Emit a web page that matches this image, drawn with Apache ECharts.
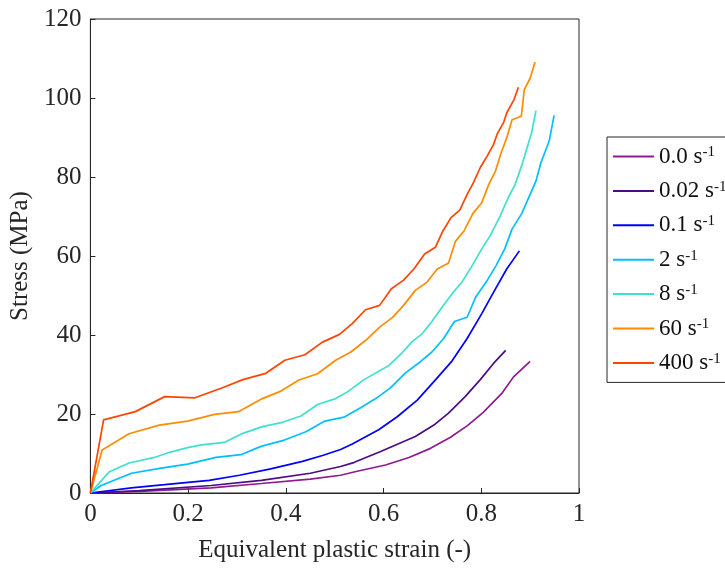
<!DOCTYPE html>
<html>
<head>
<meta charset="utf-8">
<script src="https://cdn.jsdelivr.net/npm/echarts@6/dist/echarts.min.js"></script>
<style>
  html, body { margin: 0; padding: 0; background: #fff; }
  #chart { width: 725px; height: 568px; }
</style>
</head>
<body>
<div id="chart"></div>
<script>
// Strain-rate labels (s^-1) and line colours
const rateNames = ['0.0', '0.02', '0.1', '2', '8', '60', '400'];
const rateColors = ['#8E1C8E', '#4B0C86', '#0000FF', '#00BFFF', '#40E0D0', '#FF8C00', '#FF4500'];

// Equivalent plastic strain (-) for each strain rate
const strain_0_0 = [0, 0.1, 0.247, 0.35, 0.45, 0.512, 0.546, 0.604, 0.652, 0.696, 0.737, 0.771, 0.804, 0.842, 0.866, 0.9];
const strain_0_02 = [0, 0.1, 0.247, 0.35, 0.45, 0.512, 0.539, 0.594, 0.665, 0.703, 0.733, 0.767, 0.798, 0.825, 0.85];
const strain_0_1 = [0, 0.084, 0.152, 0.243, 0.305, 0.369, 0.434, 0.475, 0.512, 0.536, 0.59, 0.628, 0.669, 0.703, 0.74, 0.771, 0.801, 0.825, 0.852, 0.878];
const strain_2 = [0, 0.022, 0.084, 0.145, 0.199, 0.257, 0.308, 0.349, 0.397, 0.441, 0.48, 0.519, 0.553, 0.584, 0.614, 0.645, 0.676, 0.699, 0.723, 0.745, 0.771, 0.789, 0.81, 0.83, 0.848, 0.863, 0.883, 0.912, 0.922, 0.939, 0.949];
const strain_8 = [0, 0.038, 0.079, 0.131, 0.162, 0.199, 0.227, 0.274, 0.312, 0.352, 0.393, 0.431, 0.465, 0.502, 0.526, 0.56, 0.611, 0.638, 0.659, 0.679, 0.699, 0.72, 0.74, 0.761, 0.781, 0.801, 0.818, 0.839, 0.856, 0.869, 0.883, 0.893, 0.903, 0.912];
const strain_60 = [0, 0.024, 0.079, 0.141, 0.199, 0.254, 0.303, 0.352, 0.39, 0.427, 0.465, 0.502, 0.533, 0.563, 0.592, 0.618, 0.641, 0.665, 0.689, 0.71, 0.733, 0.747, 0.765, 0.783, 0.801, 0.815, 0.829, 0.84, 0.852, 0.863, 0.882, 0.888, 0.9, 0.91];
const strain_400 = [0, 0.027, 0.092, 0.152, 0.214, 0.269, 0.312, 0.359, 0.398, 0.439, 0.475, 0.509, 0.536, 0.563, 0.592, 0.616, 0.641, 0.662, 0.684, 0.706, 0.72, 0.738, 0.756, 0.771, 0.784, 0.798, 0.812, 0.825, 0.833, 0.846, 0.852, 0.867, 0.876];

// Stress (MPa) for each strain rate
const stress_0_0 = [0, 0.4, 1.3, 2.4, 3.5, 4.5, 5.5, 7.1, 9.0, 11.3, 14.1, 17.0, 20.4, 25.2, 29.4, 33.3];
const stress_0_02 = [0, 0.6, 1.9, 3.2, 5.0, 6.7, 7.7, 10.5, 14.3, 17.2, 20.2, 24.4, 28.7, 32.8, 36.1];
const stress_0_1 = [0, 1.3, 2.1, 3.2, 4.5, 6.1, 8.0, 9.5, 11.0, 12.4, 16.0, 19.3, 23.5, 28.2, 33.4, 39.1, 45.4, 50.8, 56.7, 61.3];
const stress_2 = [0, 1.9, 5.0, 6.3, 7.3, 9.0, 9.7, 11.8, 13.4, 15.5, 18.2, 19.2, 21.6, 23.9, 26.6, 30.4, 33.3, 35.7, 39.1, 43.4, 44.5, 49.7, 53.4, 57.5, 61.8, 66.8, 70.8, 79.0, 83.6, 89.1, 95.6];
const stress_8 = [0, 5.3, 7.6, 9.0, 10.3, 11.5, 12.2, 12.8, 15.1, 16.8, 17.9, 19.5, 22.4, 23.9, 25.6, 28.7, 32.3, 35.5, 38.4, 40.3, 43.4, 47.1, 50.4, 53.5, 57.5, 61.8, 65.1, 70.2, 75.0, 78.0, 83.0, 87.1, 91.2, 96.8];
const stress_60 = [0, 10.9, 15.0, 17.2, 18.2, 19.9, 20.6, 23.9, 25.8, 28.6, 30.2, 33.6, 35.7, 38.6, 42.0, 44.4, 47.5, 51.3, 53.4, 56.7, 58.2, 63.7, 66.4, 70.8, 73.5, 78.0, 81.5, 85.9, 89.9, 94.5, 95.4, 102.1, 105.0, 109.1];
const stress_400 = [0, 18.5, 20.6, 24.4, 24.1, 26.6, 28.7, 30.3, 33.6, 35.0, 38.2, 40.1, 42.9, 46.4, 47.5, 51.7, 53.9, 56.7, 60.5, 62.2, 66.0, 69.7, 71.6, 75.6, 78.6, 82.4, 85.3, 88.2, 91.0, 93.9, 96.2, 99.6, 102.7];

// Axis tick values
const xTicks = [0, 0.2, 0.4, 0.6, 0.8, 1];
const yTicks = [0, 20, 40, 60, 80, 100, 120];

const strains = [strain_0_0, strain_0_02, strain_0_1, strain_2, strain_8, strain_60, strain_400];
const stresses = [stress_0_0, stress_0_02, stress_0_1, stress_2, stress_8, stress_60, stress_400];

const FONT = '"Liberation Serif", "Times New Roman", serif';
const AXIS_COLOR = '#262626';

const series = rateNames.map((name, i) => ({
  name: name,
  type: 'line',
  symbol: 'none',
  animation: false,
  lineStyle: { width: 1.7, color: rateColors[i] },
  itemStyle: { color: rateColors[i] },
  data: strains[i].map((x, j) => [x, stresses[i][j]])
}));

const chart = echarts.init(document.getElementById('chart'), null, { renderer: 'canvas' });
chart.setOption({
  backgroundColor: '#ffffff',
  animation: false,
  grid: {
    left: 89, top: 19, width: 490, height: 476,
    show: true, borderColor: AXIS_COLOR, borderWidth: 1, backgroundColor: 'transparent'
  },
  xAxis: {
    type: 'value',
    min: xTicks[0], max: xTicks[xTicks.length - 1], interval: xTicks[1] - xTicks[0],
    name: 'Equivalent plastic strain (-)',
    nameLocation: 'middle', nameGap: 45,
    nameTextStyle: { fontFamily: FONT, fontSize: 25, color: AXIS_COLOR },
    axisLine: { lineStyle: { color: AXIS_COLOR, width: 1 } },
    axisTick: { inside: true, length: 5, lineStyle: { color: AXIS_COLOR } },
    axisLabel: { fontFamily: FONT, fontSize: 25, color: AXIS_COLOR, margin: 9,
      formatter: v => String(+v.toFixed(1)) },
    splitLine: { show: false }
  },
  yAxis: {
    type: 'value',
    min: yTicks[0], max: yTicks[yTicks.length - 1], interval: yTicks[1] - yTicks[0],
    name: 'Stress (MPa)',
    nameLocation: 'middle', nameGap: 52,
    nameTextStyle: { fontFamily: FONT, fontSize: 25, color: AXIS_COLOR },
    axisLine: { lineStyle: { color: AXIS_COLOR, width: 1 } },
    axisTick: { inside: true, length: 5, lineStyle: { color: AXIS_COLOR } },
    axisLabel: { fontFamily: FONT, fontSize: 25, color: AXIS_COLOR, margin: 9 },
    splitLine: { show: false }
  },
  legend: {
    orient: 'vertical',
    left: 607, top: 137,
    padding: [8, 6, 4, 6],
    itemGap: 7.4,
    itemWidth: 41, itemHeight: 2,
    icon: 'rect',
    itemStyle: { borderWidth: 0 },
    borderColor: AXIS_COLOR, borderWidth: 1,
    backgroundColor: '#ffffff',
    data: rateNames,
    formatter: name => '{b|' + name + ' s}{sup|-1}',
    textStyle: {
      padding: [0, 0, 0, 0],
      rich: {
        b: { fontFamily: FONT, fontSize: 23, color: '#111', lineHeight: 23, verticalAlign: 'bottom', padding: [0, 0, 0, 0] },
        sup: { fontFamily: FONT, fontSize: 15, color: '#111', lineHeight: 23, verticalAlign: 'top', padding: [0, 0, 12, 0] }
      }
    }
  },
  series: series
});
</script>
</body>
</html>
